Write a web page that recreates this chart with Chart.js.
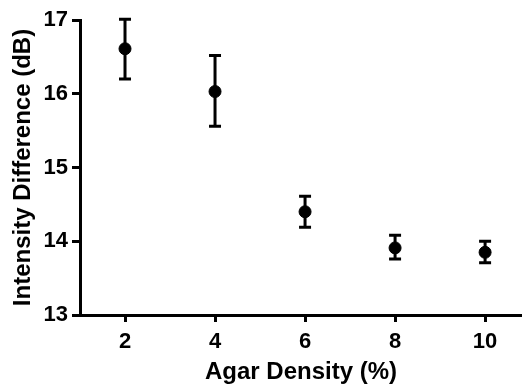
<!DOCTYPE html>
<html>
<head>
<meta charset="utf-8">
<script src="https://cdn.jsdelivr.net/npm/chart.js@4.4.0/dist/chart.umd.min.js"></script>
<style>
  html, body { margin: 0; padding: 0; background: #fff; }
  #grafico { display: block; }
</style>
</head>
<body>
<canvas id="grafico" width="522" height="387"></canvas>
<script>
// agar density (%) and measured intensity difference (dB)
const densidades = [2, 4, 6, 8, 10];
const medias = [16.61, 16.03, 14.40, 13.91, 13.85];
const errorBajo = [16.20, 15.56, 14.19, 13.76, 13.71];
const errorAlto = [17.01, 16.52, 14.61, 14.08, 14.00];
const ticksX = [2, 4, 6, 8, 10];
const ticksY = [13, 14, 15, 16, 17];

const fuente = "'Liberation Sans', Arial, sans-serif";

// draws the error bars before the points so the markers sit on top
const barrasError = {
  id: 'barrasError',
  beforeDatasetsDraw(chart) {
    const { ctx, scales } = chart;
    ctx.save();
    ctx.strokeStyle = '#000';
    ctx.lineWidth = 3;
    densidades.forEach((d, i) => {
      const x = scales.x.getPixelForValue(d);
      const y1 = scales.y.getPixelForValue(errorBajo[i]);
      const y2 = scales.y.getPixelForValue(errorAlto[i]);
      ctx.beginPath();
      ctx.moveTo(x, y1);
      ctx.lineTo(x, y2);
      ctx.moveTo(x - 6, y1);
      ctx.lineTo(x + 6, y1);
      ctx.moveTo(x - 6, y2);
      ctx.lineTo(x + 6, y2);
      ctx.stroke();
    });
    ctx.restore();
  }
};

const ctx = document.getElementById("grafico").getContext("2d");

new Chart(ctx, {
  type: 'scatter',
  data: {
    datasets: [{
      data: densidades.map((d, i) => ({ x: d, y: medias[i] })),
      backgroundColor: '#000',
      borderColor: '#000',
      pointRadius: 6,
      pointHoverRadius: 6
    }]
  },
  options: {
    responsive: false,
    animation: false,
    layout: { autoPadding: false, padding: { top: 20, right: 0, left: 0, bottom: 0 } },
    plugins: {
      legend: { display: false },
      tooltip: { enabled: false }
    },
    scales: {
      x: {
        type: 'linear',
        min: 1,
        max: 10.82,
        afterBuildTicks: (scale) => {
          scale.ticks = ticksX.map(v => ({ value: v }));
        },
        afterFit: (scale) => {
          scale.height = 72;
          scale.paddingLeft = 0;
          scale.paddingRight = 0;
        },
        grid: { drawOnChartArea: false, drawTicks: true, tickLength: 7, tickWidth: 3, color: '#000' },
        border: { display: true, width: 3, color: '#000' },
        ticks: {
          color: '#000',
          padding: 7,
          maxRotation: 0,
          font: { family: fuente, size: 22, weight: 'bold' }
        },
        title: {
          display: true,
          text: 'Agar Density (%)',
          color: '#000',
          padding: { top: 0, bottom: 0 },
          font: { family: fuente, size: 24, weight: 'bold' }
        }
      },
      y: {
        min: 13,
        max: 17,
        afterBuildTicks: (scale) => {
          scale.ticks = ticksY.map(v => ({ value: v }));
        },
        afterFit: (scale) => { scale.width = 80; },
        grid: { drawOnChartArea: false, drawTicks: true, tickLength: 8, tickWidth: 3, color: '#000' },
        border: { display: true, width: 3, color: '#000' },
        ticks: {
          color: '#000',
          padding: 4,
          font: { family: fuente, size: 22, weight: 'bold' }
        },
        title: {
          display: true,
          text: 'Intensity Difference (dB)',
          color: '#000',
          padding: { top: 9, bottom: 0 },
          font: { family: fuente, size: 24, weight: 'bold' }
        }
      }
    }
  },
  plugins: [barrasError]
});
</script>
</body>
</html>
